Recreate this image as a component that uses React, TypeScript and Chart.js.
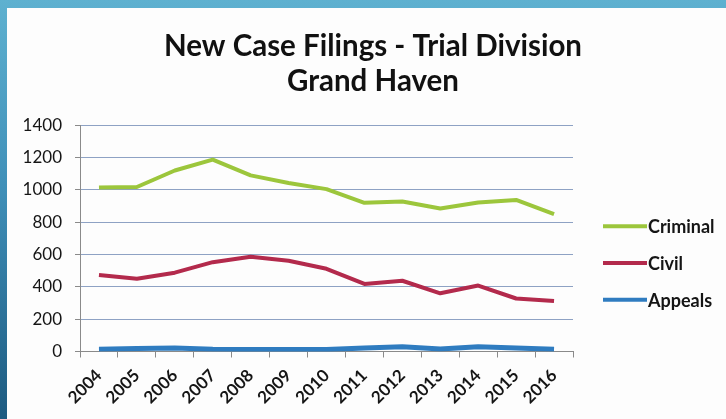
import React, { useEffect, useRef } from "react";
import { Chart, registerables } from "chart.js";

Chart.register(...registerables);

const years = ["2004", "2005", "2006", "2007", "2008", "2009", "2010", "2011", "2012", "2013", "2014", "2015", "2016"];
const criminal = [1015, 1018, 1120, 1188, 1090, 1043, 1005, 920, 928, 885, 922, 938, 850];
const civil = [473, 450, 488, 553, 587, 562, 512, 418, 438, 360, 408, 328, 312];
const appeals = [14, 18, 22, 14, 12, 12, 12, 22, 30, 16, 30, 22, 14];
const seriesNames = ["Criminal", "Civil", "Appeals"];
const seriesColors = ["#9cc63c", "#b32a4c", "#2f7cc0"];
const titleLines = ["New Case Filings - Trial Division", "Grand Haven"];

const FONT = "Lato, 'Open Sans', sans-serif";

const sideLegend = {
  id: "sideLegend",
  afterDraw(chart: any) {
    const { ctx, chartArea } = chart;
    ctx.save();
    chart.data.datasets.forEach((ds: any, i: number) => {
      const y = chartArea.top + 101 + i * 36.7;
      const x0 = chartArea.right + 30;
      const x1 = x0 + 44;
      ctx.strokeStyle = ds.borderColor;
      ctx.lineWidth = 4;
      ctx.lineCap = "butt";
      ctx.beginPath();
      ctx.moveTo(x0, y);
      ctx.lineTo(x1, y);
      ctx.stroke();
      ctx.fillStyle = "#151515";
      ctx.font = `bold 18px ${FONT}`;
      ctx.textAlign = "left";
      ctx.textBaseline = "middle";
      ctx.fillText(ds.label, x1 + 1, y + 1);
    });
    ctx.restore();
  },
};

export default function App() {
  const canvasRef = useRef<HTMLCanvasElement | null>(null);

  useEffect(() => {
    if (!canvasRef.current) return;
    const values = [criminal, civil, appeals];
    const chart = new Chart(canvasRef.current, {
      type: "line",
      data: {
        labels: years,
        datasets: seriesNames.map((name, i) => ({
          label: name,
          data: values[i],
          borderColor: seriesColors[i],
          backgroundColor: seriesColors[i],
          borderWidth: i === 2 ? 5 : 4,
          pointRadius: 0,
          tension: 0,
          borderJoinStyle: "round" as const,
          yAxisID: "y",
        })),
      },
      options: {
        responsive: false,
        animation: false,
        devicePixelRatio: 1,
        layout: { padding: { left: 20, right: 0, top: 0, bottom: 0 } },
        plugins: {
          legend: { display: false },
          tooltip: { enabled: false },
          title: {
            display: true,
            text: titleLines,
            color: "#111",
            font: { family: FONT, size: 29.5, weight: "bold", lineHeight: 1.2 },
            padding: { top: 28.3, bottom: 26.2 },
          },
        },
        scales: {
          x: {
            offset: true,
            grid: {
              offset: true,
              drawOnChartArea: false,
              color: "#8a8a8a",
              tickLength: 6,
            },
            border: { display: true, color: "#8a8a8a", width: 1 },
            ticks: {
              autoSkip: false,
              minRotation: 45,
              maxRotation: 45,
              padding: 8,
              color: "#151515",
              font: { family: FONT, size: 17, weight: "bold" },
            },
            afterFit: (s: any) => {
              s.height = 67.5;
            },
          },
          y: {
            position: "left",
            min: 0,
            max: 1400,
            ticks: {
              stepSize: 200,
              padding: 13,
              color: "#151515",
              font: { family: FONT, size: 17 },
              callback: (v: any) => String(v),
            },
            grid: {
              color: "#8ea2c4",
              lineWidth: 1,
              tickLength: 5,
              tickColor: "#8a8a8a",
            },
            border: { display: true, color: "#8a8a8a", width: 1 },
            afterFit: (s: any) => {
              s.width = 60;
            },
          },
          yRight: {
            position: "right",
            display: true,
            grid: { display: false, drawTicks: false },
            border: { display: false },
            ticks: { display: false },
            afterFit: (s: any) => {
              s.width = 153;
            },
          },
        },
      },
      plugins: [sideLegend],
    });
    return () => chart.destroy();
  }, []);

  return (
    <div
      style={{
        position: "absolute",
        left: 0,
        top: 0,
        width: 726,
        height: 419,
        background: "linear-gradient(to bottom, #5eb1d0 0%, #3f8fb8 45%, #1d5a80 100%)",
        overflow: "hidden",
      }}
    >
      <div
        style={{
          position: "absolute",
          left: 7,
          top: 8,
          width: 719,
          height: 411,
          background: "#fdfdfd",
        }}
      />
      <canvas
        ref={canvasRef}
        width={726}
        height={419}
        style={{ position: "absolute", left: 0, top: 0, display: "block" }}
      />
    </div>
  );
}
